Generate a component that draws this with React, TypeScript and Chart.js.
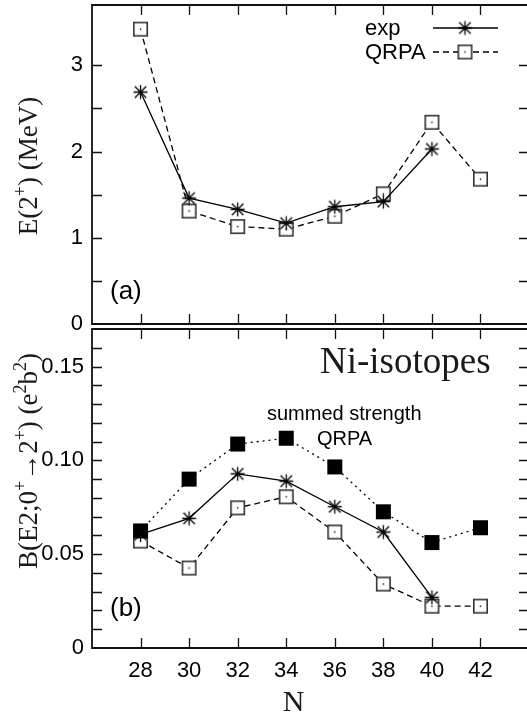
import React, { useEffect, useRef } from 'react';
import { Chart, registerables } from 'chart.js';
Chart.register(...registerables);

// ---- data ----
const N_VALUES = [28, 30, 32, 34, 36, 38, 40, 42];
const X_TICK_VALUES = [28, 30, 32, 34, 36, 38, 40, 42];
const E2_EXP = [2.69, 1.46, 1.33, 1.17, 1.36, 1.42, 2.03];
const E2_QRPA = [3.42, 1.31, 1.13, 1.10, 1.25, 1.51, 2.34, 1.68];
const BE2_EXP = [0.0606, 0.0691, 0.0928, 0.0889, 0.0753, 0.0618, 0.0270];
const BE2_QRPA = [0.0570, 0.0426, 0.0747, 0.0806, 0.0618, 0.0341, 0.0223, 0.0223];
const BE2_SUMMED = [0.0624, 0.0900, 0.1087, 0.1118, 0.0965, 0.0726, 0.0562, 0.0641];

const SANS = '"Liberation Sans", Arial, Helvetica, sans-serif';
const SERIF = '"Liberation Serif", "Times New Roman", serif';

const toPts = (ys: number[]) => ys.map((y, i) => ({ x: N_VALUES[i], y }));

function makeSquare(filled: boolean, size = 15): HTMLCanvasElement {
  const s = size + 2;
  const c = document.createElement('canvas');
  c.width = s;
  c.height = s;
  const g = c.getContext('2d')!;
  g.fillStyle = filled ? '#000' : '#fff';
  g.fillRect(1, 1, size, size);
  g.lineWidth = 1.6;
  g.strokeStyle = filled ? '#000' : '#333';
  g.strokeRect(1.8, 1.8, size - 1.6, size - 1.6);
  if (!filled) {
    g.fillStyle = '#000';
    g.fillRect(s / 2 - 0.7, s / 2 - 0.7, 1.4, 1.4);
  }
  return c;
}

function makeStar(r = 7): HTMLCanvasElement {
  const s = 2 * r + 3;
  const c = document.createElement('canvas');
  c.width = s;
  c.height = s;
  const g = c.getContext('2d')!;
  const m = s / 2;
  const d = r * 0.82;
  g.strokeStyle = '#000';
  g.lineWidth = 1.3;
  g.beginPath();
  g.moveTo(m, m - r); g.lineTo(m, m + r);
  g.moveTo(m - r, m); g.lineTo(m + r, m);
  g.moveTo(m - d, m - d); g.lineTo(m + d, m + d);
  g.moveTo(m - d, m + d); g.lineTo(m + d, m - d);
  g.stroke();
  return c;
}

type Part = { t: string; sup?: boolean };

function drawVTitle(ctx: CanvasRenderingContext2D, parts: Part[], size: number, baseX: number, centerY: number) {
  ctx.save();
  ctx.translate(baseX, centerY);
  ctx.rotate(-Math.PI / 2);
  ctx.textAlign = 'left';
  ctx.textBaseline = 'alphabetic';
  ctx.fillStyle = '#1a1a1a';
  let total = 0;
  const widths = parts.map((p) => {
    ctx.font = `${p.sup ? Math.round(size * 0.65) : size}px ${SERIF}`;
    const w = ctx.measureText(p.t).width;
    total += w;
    return w;
  });
  let x = -total / 2;
  parts.forEach((p, i) => {
    ctx.font = `${p.sup ? Math.round(size * 0.65) : size}px ${SERIF}`;
    ctx.fillText(p.t, x, p.sup ? -size * 0.42 : 0);
    x += widths[i];
  });
  ctx.restore();
}

function drawFrameAndTicks(chart: any, step: number) {
  const { ctx, chartArea: a, scales } = chart;
  const xs = scales.x;
  const ys = scales.y;
  const TL = 10;
  const L = a.left, R = a.right, T = a.top, B = a.bottom;
  ctx.save();
  ctx.setLineDash([]);
  ctx.globalAlpha = 1;
  ctx.globalCompositeOperation = 'source-over';
  ctx.strokeStyle = '#111';
  ctx.lineWidth = 1.3;
  ctx.beginPath();
  for (let i = 0; i < X_TICK_VALUES.length; i++) {
    const px = Math.round(xs.getPixelForValue(X_TICK_VALUES[i])) + 0.5;
    ctx.moveTo(px, B);
    ctx.lineTo(px, B - TL);
    ctx.moveTo(px, T);
    ctx.lineTo(px, T + TL);
  }
  const tv: number[] = (ys.ticks || []).map((t: any) => t.value);
  for (let i = 0; i < tv.length; i++) {
    const v = tv[i];
    if (v <= ys.min + 1e-9 || v >= ys.max - 1e-9) continue;
    const k = v / step;
    if (Math.abs(k - Math.round(k)) > 1e-6) continue;
    const py = Math.round(ys.getPixelForValue(v)) + 0.5;
    ctx.moveTo(L, py);
    ctx.lineTo(L + TL, py);
    ctx.moveTo(R, py);
    ctx.lineTo(R - TL, py);
  }
  ctx.stroke();
  ctx.lineWidth = 1.8;
  ctx.beginPath();
  ctx.rect(L, T, R - L, B - T);
  ctx.stroke();
  ctx.restore();
}

const noVPad = (s: any) => {
  s.width = 92;
  s.paddingTop = 0;
  s.paddingBottom = 0;
};

export default function App() {
  const topRef = useRef<HTMLCanvasElement>(null);
  const botRef = useRef<HTMLCanvasElement>(null);

  useEffect(() => {
    const STAR = makeStar();
    const SQ_OPEN = makeSquare(false);
    const SQ_FILLED = makeSquare(true);

    const ds = (label: string, ys: number[], img: HTMLCanvasElement, dash: number[]) => ({
      label,
      data: toPts(ys),
      borderColor: '#000',
      backgroundColor: '#fff',
      borderWidth: 1.3,
      borderDash: dash,
      pointStyle: img,
      pointRadius: 8,
      showLine: true,
      fill: false,
      tension: 0,
    });

    const yTickFont = { family: SANS, size: 22 };

    const topPlugin = {
      id: 'topPanel',
      afterDraw(chart: any) {
        const { ctx, chartArea: a } = chart;
        ctx.save();
        ctx.fillStyle = '#000';
        ctx.font = `26px ${SANS}`;
        ctx.textAlign = 'left';
        ctx.textBaseline = 'middle';
        ctx.fillText('(a)', a.left + 18, a.bottom - 32);
        ctx.font = `22px ${SANS}`;
        const rows = [
          { label: 'exp', y: a.top + 23, dash: [] as number[], img: STAR },
          { label: 'QRPA', y: a.top + 47, dash: [6, 4], img: SQ_OPEN },
        ];
        rows.forEach((r) => {
          ctx.fillStyle = '#000';
          ctx.fillText(r.label, a.right - 164, r.y + 1);
          ctx.strokeStyle = '#000';
          ctx.lineWidth = 1.3;
          ctx.setLineDash(r.dash);
          ctx.beginPath();
          ctx.moveTo(a.right - 96, r.y);
          ctx.lineTo(a.right - 31, r.y);
          ctx.stroke();
          ctx.setLineDash([]);
          ctx.drawImage(r.img, a.right - 64 - r.img.width / 2, r.y - r.img.height / 2);
        });
        ctx.restore();
        drawVTitle(ctx, [{ t: 'E(2' }, { t: '+', sup: true }, { t: ') (MeV)' }], 27, 37, (a.top + a.bottom) / 2 + 1.5);
        drawFrameAndTicks(chart, 0.5);
      },
    };

    const botPlugin = {
      id: 'botPanel',
      afterDraw(chart: any) {
        const { ctx, chartArea: a } = chart;
        ctx.save();
        ctx.textAlign = 'left';
        ctx.textBaseline = 'alphabetic';
        ctx.font = `37px ${SERIF}`;
        ctx.fillStyle = '#1a1a1a';
        ctx.fillText('Ni-isotopes', a.left + 228, a.top + 44);
        ctx.fillStyle = '#000';
        ctx.font = `20px ${SANS}`;
        ctx.fillText('summed strength', a.left + 175, a.top + 91);
        ctx.fillText('QRPA', a.left + 225, a.top + 116);
        ctx.font = `26px ${SANS}`;
        ctx.textBaseline = 'middle';
        ctx.fillText('(b)', a.left + 18, a.bottom - 39);
        ctx.font = `30px ${SERIF}`;
        ctx.textAlign = 'center';
        ctx.fillStyle = '#1a1a1a';
        ctx.fillText('N', chart.scales.x.getPixelForValue(34.3), a.bottom + 55);
        ctx.restore();
        drawVTitle(
          ctx,
          [
            { t: 'B(E2;0' }, { t: '+', sup: true }, { t: '\u21922' }, { t: '+', sup: true },
            { t: ') (e' }, { t: '2', sup: true }, { t: 'b' }, { t: '2', sup: true }, { t: ')' },
          ],
          27,
          37,
          a.top + 132
        );
        drawFrameAndTicks(chart, 0.01);
      },
    };

    const c1 = new Chart(topRef.current!, {
      type: 'line',
      data: {
        datasets: [
          ds('exp', E2_EXP, STAR, []),
          ds('QRPA', E2_QRPA, SQ_OPEN, [6, 4]),
        ],
      },
      options: {
        responsive: false,
        maintainAspectRatio: false,
        animation: false,
        layout: { autoPadding: false, padding: { top: 15, bottom: 14, left: 0, right: 0 } },
        plugins: { legend: { display: false }, tooltip: { enabled: false } },
        scales: {
          x: { type: 'linear', min: 26, max: 44, display: false },
          y: {
            type: 'linear',
            min: 0,
            max: 3.7,
            afterFit: noVPad,
            grid: { display: false, drawTicks: false },
            border: { display: false },
            ticks: {
              stepSize: 0.5,
              autoSkip: false,
              padding: 9,
              color: '#000',
              font: yTickFont,
              callback: (v: any) => (Math.abs(v - Math.round(v)) < 1e-9 ? String(Math.round(v)) : ''),
            },
          },
        },
      } as any,
      plugins: [topPlugin],
    });

    const c2 = new Chart(botRef.current!, {
      type: 'line',
      data: {
        datasets: [
          ds('summed strength QRPA', BE2_SUMMED, SQ_FILLED, [2, 4]),
          ds('exp', BE2_EXP, STAR, []),
          ds('QRPA', BE2_QRPA, SQ_OPEN, [6, 4]),
        ],
      },
      options: {
        responsive: false,
        maintainAspectRatio: false,
        animation: false,
        layout: { autoPadding: false, padding: { top: 15, bottom: 0, left: 0, right: 0 } },
        plugins: { legend: { display: false }, tooltip: { enabled: false } },
        scales: {
          x: {
            type: 'linear',
            min: 26,
            max: 44,
            afterFit: (s: any) => { s.height = 69; s.paddingLeft = 0; s.paddingRight = 0; },
            grid: { display: false, drawTicks: false },
            border: { display: false },
            ticks: {
              stepSize: 2,
              autoSkip: false,
              maxRotation: 0,
              padding: 10,
              color: '#000',
              font: { family: SANS, size: 22 },
              callback: (v: any) => (X_TICK_VALUES.includes(v) ? String(v) : ''),
            },
          },
          y: {
            type: 'linear',
            min: 0,
            max: 0.17,
            afterFit: noVPad,
            grid: { display: false, drawTicks: false },
            border: { display: false },
            ticks: {
              stepSize: 0.01,
              autoSkip: false,
              padding: 8,
              color: '#000',
              font: yTickFont,
              callback: (v: any) => {
                const k = Math.round(v * 100);
                if (Math.abs(v * 100 - k) > 1e-6 || k % 5 !== 0) return '';
                return k === 0 ? '0' : (k / 100).toFixed(2);
              },
            },
          },
        },
      } as any,
      plugins: [botPlugin],
    });

    return () => {
      c1.destroy();
      c2.destroy();
    };
  }, []);

  return (
    <div
      style={{
        position: 'absolute',
        left: 0,
        top: 0,
        width: 527,
        height: 717,
        overflow: 'hidden',
        background: '#fff',
      }}
    >
      <canvas
        ref={topRef}
        width={529}
        height={348}
        style={{ position: 'absolute', left: 0, top: -10, width: 529, height: 348 }}
      />
      <canvas
        ref={botRef}
        width={529}
        height={403}
        style={{ position: 'absolute', left: 0, top: 314, width: 529, height: 403 }}
      />
    </div>
  );
}
